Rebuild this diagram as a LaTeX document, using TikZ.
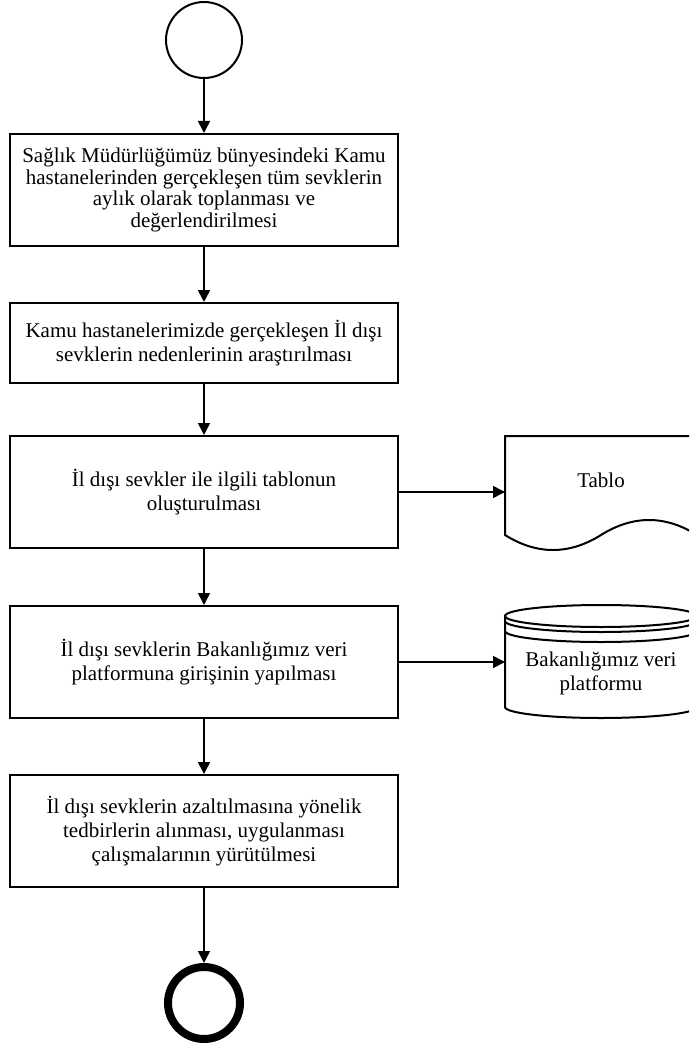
\documentclass[tikz,border=0pt]{standalone}
\usepackage{fontspec}
\setmainfont{Liberation Serif}
\usetikzlibrary{arrows.meta}

\begin{document}
\begin{tikzpicture}[x=1pt,y=-1pt,
  line width=2pt,
  txt/.style={font=\fontsize{21}{24}\selectfont},
  stepbox/.style={draw, rectangle, inner sep=0pt, minimum width=388pt,
    minimum height=112pt, align=center, txt},
  flow/.style={-{Triangle[length=12pt,width=12pt]}, line width=1.6pt},
  blank/.style={inner sep=0pt, outer sep=0pt}
]
\clip (0,0) rectangle (689,1043);
\fill[white] (0,0) rectangle (689,1043);

% start and end events
\node[draw, circle, minimum size=76pt, inner sep=0pt] (start) at (204,40) {};
\node[draw, circle, line width=8pt, minimum size=72pt, inner sep=0pt] (finish) at (204,1003) {};

% process steps
\node[stepbox, font=\fontsize{21}{21.7}\selectfont] (s1) at (204,190)
  {Sağlık Müdürlüğümüz bünyesindeki Kamu\\hastanelerinden gerçekleşen tüm sevklerin\\aylık olarak toplanması ve\\değerlendirilmesi};
\node[stepbox, minimum height=80pt] (s2) at (204,343)
  {Kamu hastanelerimizde gerçekleşen İl dışı\\sevklerin nedenlerinin araştırılması};
\node[stepbox] (s3) at (204,492)
  {İl dışı sevkler ile ilgili tablonun\\oluşturulması};
\node[stepbox] (s4) at (204,662)
  {İl dışı sevklerin Bakanlığımız veri\\platformuna girişinin yapılması};
\node[stepbox] (s5) at (204,831)
  {İl dışı sevklerin azaltılmasına yönelik\\tedbirlerin alınması, uygulanması\\çalışmalarının yürütülmesi};

% document shape
\node[blank, minimum width=192pt, minimum height=99pt] (tablo) at (601,485.5) {};
\draw (505,535) -- (505,436) -- (697,436) -- (697,535)
  .. controls (665,515) and (633,515) .. (601,535)
  .. controls (569,555) and (537,555) .. cycle;
\node[txt] (tablolbl) at (601,480) {Tablo};

% database shape
\node[blank, minimum width=192pt, minimum height=113pt] (db) at (601,661.5) {};
\draw (601,616) ellipse [x radius=96, y radius=11];
\draw (505,621) arc[start angle=180, end angle=0, x radius=96, y radius=11];
\draw (505,631) arc[start angle=180, end angle=0, x radius=96, y radius=11];
\draw (505,616) -- (505,707) arc[start angle=180, end angle=0, x radius=96, y radius=11] -- (697,616);
\node[txt, align=center] (dblbl) at (601,673) {Bakanlığımız veri\\platformu};

% connectors
\draw[flow] (start) -- (s1);
\draw[flow] (s1) -- (s2);
\draw[flow] (s2) -- (s3);
\draw[flow] (s3) -- (s4);
\draw[flow] (s4) -- (s5);
\draw[flow] (s5) -- (finish);
\draw[flow] (s3.east) -- (s3.east -| tablo.west);
\draw[flow] (s4.east) -- (s4.east -| db.west);
\end{tikzpicture}
\end{document}
